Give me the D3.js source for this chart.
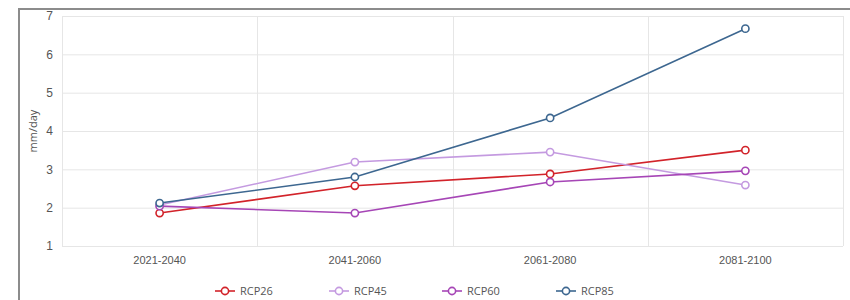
<!DOCTYPE html>
<html>
<head>
<meta charset="utf-8">
<script src="https://cdn.jsdelivr.net/npm/d3@7"></script>
<style>
    body { margin: 0; background: #fff; }
    svg { display: block; }
</style>
</head>
<body>
<div id="display"></div>
<script>
// data
let periods = ['2021-2040', '2041-2060', '2061-2080', '2081-2100'];
let rcp26 = [1.86, 2.57, 2.88, 3.50];
let rcp45 = [2.07, 3.19, 3.45, 2.59];
let rcp60 = [2.04, 1.86, 2.67, 2.96];
let rcp85 = [2.12, 2.80, 4.34, 6.67];
let seriesNames = ['RCP26', 'RCP45', 'RCP60', 'RCP85'];
let seriesColors = ['#d2232a', '#c49ae0', '#a646b6', '#3d6790'];
let yTicks = [1, 2, 3, 4, 5, 6, 7];

let series = [rcp26, rcp45, rcp60, rcp85].map((v, i) => {
    return {name: seriesNames[i], values: v, color: seriesColors[i]};
});

let W = 850, H = 300;
let margin = {top: 16, right: 7, bottom: 54, left: 62};
let width = W - margin.left - margin.right;
let height = H - margin.top - margin.bottom;

let svg = d3.select('#display')
    .append('svg')
        .attr('width', W)
        .attr('height', H)
        .style('font-family', "'Open Sans', sans-serif");

// frame
svg.append('line')
    .attr('x1', 19).attr('x2', W).attr('y1', 9).attr('y2', 9)
    .attr('stroke', '#8c8c8c').attr('stroke-width', 2);
svg.append('line')
    .attr('x1', 19).attr('x2', 19).attr('y1', 8).attr('y2', H)
    .attr('stroke', '#8c8c8c').attr('stroke-width', 2);

let g = svg.append('g')
    .attr('transform', 'translate(' + margin.left + ',' + margin.top + ')');

// scales
let x = d3.scaleBand()
    .domain(periods)
    .range([0, width]);

let y = d3.scaleLinear()
    .domain([1, 7])
    .range([height, 0]);

// grid
g.selectAll('.hgrid')
    .data(yTicks)
    .enter()
    .append('line')
        .attr('x1', 0).attr('x2', width)
        .attr('y1', d => y(d) + 0.5).attr('y2', d => y(d) + 0.5)
        .attr('stroke', '#e6e6e6');

let bounds = periods.map(p => x(p)).concat([width]);
g.selectAll('.vgrid')
    .data(bounds)
    .enter()
    .append('line')
        .attr('x1', d => Math.round(d) + 0.5).attr('x2', d => Math.round(d) + 0.5)
        .attr('y1', 0).attr('y2', height)
        .attr('stroke', '#e6e6e6');

// y axis
let yAxis = g.append('g')
    .call(d3.axisLeft(y).tickValues(yTicks).tickSize(0).tickPadding(9).tickFormat(d3.format('d')));
yAxis.select('.domain').remove();
yAxis.selectAll('text').attr('fill', '#555').style('font-size', '12px');

// x axis
let xAxis = g.append('g')
    .attr('transform', 'translate(0,' + height + ')')
    .call(d3.axisBottom(x).tickSize(0).tickPadding(10));
xAxis.select('.domain').remove();
xAxis.selectAll('text').attr('fill', '#555').style('font-size', '11px');

// y label
svg.append('text')
    .attr('transform', 'translate(37,' + (margin.top + height / 2) + ') rotate(-90)')
    .attr('text-anchor', 'middle')
    .attr('fill', '#555')
    .style('font-size', '11px')
    .text('mm/day');

// lines
let line = d3.line()
    .x((d, i) => x(periods[i]) + x.bandwidth() / 2)
    .y(d => y(d));

let sg = g.selectAll('.series')
    .data(series)
    .enter()
    .append('g');

sg.append('path')
    .attr('d', d => line(d.values))
    .attr('fill', 'none')
    .attr('stroke', d => d.color)
    .attr('stroke-width', 1.6);

sg.selectAll('circle')
    .data(d => d.values.map((v, i) => ({v: v, i: i, color: d.color})))
    .enter()
    .append('circle')
        .attr('cx', d => x(periods[d.i]) + x.bandwidth() / 2)
        .attr('cy', d => y(d.v))
        .attr('r', 3.6)
        .attr('fill', '#fff')
        .attr('stroke', d => d.color)
        .attr('stroke-width', 1.6);

// legend
let legendX = [215, 329, 442, 556];
let legend = svg.selectAll('.legend')
    .data(series)
    .enter()
    .append('g')
        .attr('transform', (d, i) => 'translate(' + legendX[i] + ',291)');

legend.append('line')
    .attr('x1', 0).attr('x2', 20)
    .attr('stroke', d => d.color).attr('stroke-width', 1.6);
legend.append('circle')
    .attr('cx', 10).attr('r', 3.6)
    .attr('fill', '#fff')
    .attr('stroke', d => d.color).attr('stroke-width', 1.6);
legend.append('text')
    .attr('x', 25).attr('dy', '0.35em')
    .attr('fill', '#555')
    .style('font-size', '11px')
    .text(d => d.name);
</script>
</body>
</html>
